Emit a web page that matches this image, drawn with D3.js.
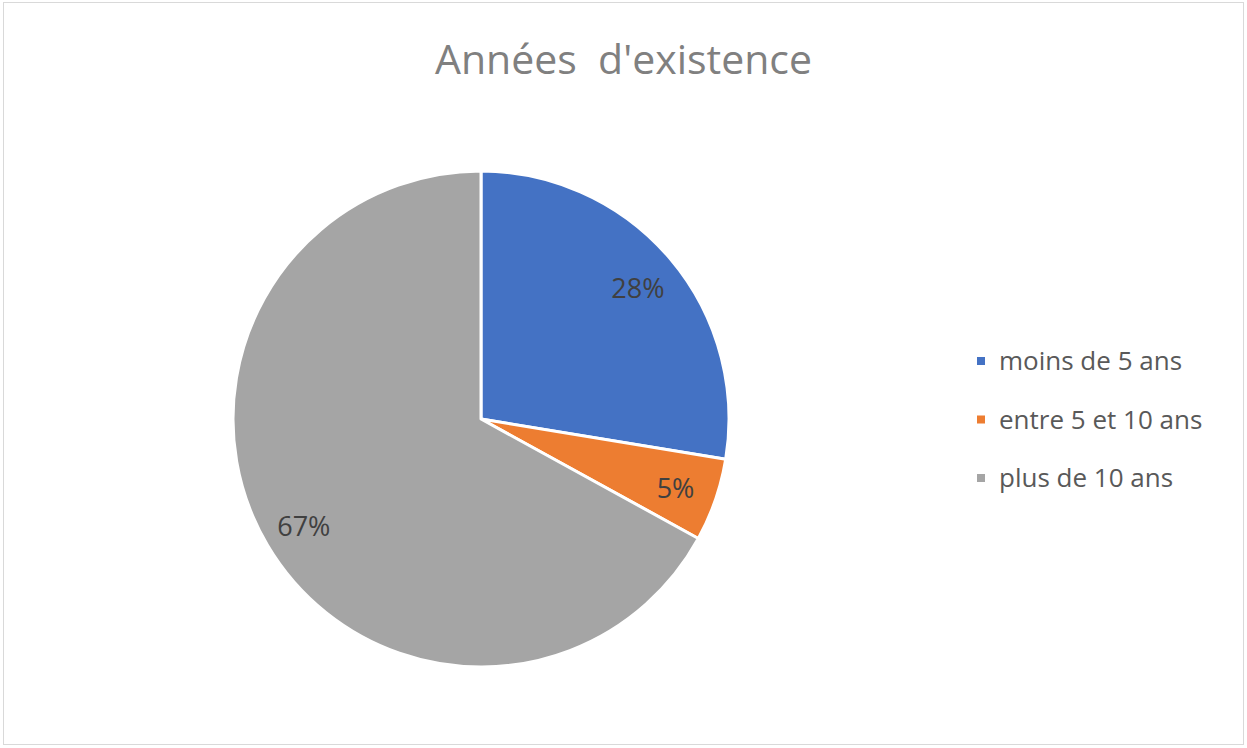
<!DOCTYPE html>
<html>
<head>
<meta charset="utf-8">
<script src="https://cdn.jsdelivr.net/npm/d3@7"></script>
<style>
  body { margin: 0; background: #fff; }
  svg { display: block; font-family: "Open Sans", "Noto Sans", sans-serif; }
</style>
</head>
<body>
<div id="chart"></div>
<script>
const title = "Années  d'existence";
const categories = ["moins de 5 ans", "entre 5 et 10 ans", "plus de 10 ans"];
const shares = [27.6, 5.4, 67.0];
const colors = ["#4472C4", "#ED7D31", "#A5A5A5"];

const W = 1247, H = 748;
const cx = 481, cy = 419, radius = 248;

const svg = d3.select("#chart").append("svg")
  .attr("width", W)
  .attr("height", H);

// chart frame
svg.append("rect")
  .attr("x", 3.5).attr("y", 2.5)
  .attr("width", 1240).attr("height", 742)
  .attr("fill", "#fff")
  .attr("stroke", "#d9d9d9")
  .attr("stroke-width", 1);

svg.append("text")
  .attr("x", 623.5).attr("y", 74)
  .attr("text-anchor", "middle")
  .attr("fill", "#808080")
  .style("font-size", "41px")
  .style("white-space", "pre")
  .text(title);

const data = categories.map((c, i) => ({ name: c, value: shares[i], color: colors[i] }));

const pie = d3.pie().sort(null).value((d) => d.value);
const arcs = pie(data);

const arc = d3.arc().innerRadius(0).outerRadius(radius);
const labelArc = d3.arc().innerRadius(radius * 0.66).outerRadius(radius);

const g = svg.append("g").attr("transform", `translate(${cx},${cy})`);

g.selectAll("path")
  .data(arcs)
  .enter()
  .append("path")
  .attr("d", arc)
  .attr("fill", (d) => d.data.color)
  .attr("stroke", "#fff")
  .attr("stroke-width", 3)
  .attr("stroke-linejoin", "round");

g.selectAll(".label")
  .data(arcs)
  .enter()
  .append("text")
  .attr("class", "label")
  .attr("transform", (d) => `translate(${labelArc.centroid(d)})`)
  .attr("text-anchor", "middle")
  .attr("dy", "0.45em")
  .attr("fill", "#404040")
  .style("font-size", "27px")
  .text((d) => Math.round(d.data.value) + "%");

// legend
const legend = svg.append("g").attr("transform", "translate(976,361)");
const rows = legend.selectAll("g")
  .data(data)
  .enter()
  .append("g")
  .attr("transform", (d, i) => `translate(0,${i * 58.5})`);

rows.append("rect")
  .attr("x", 1).attr("y", -4)
  .attr("width", 8).attr("height", 8)
  .attr("fill", (d) => d.color);

rows.append("text")
  .attr("x", 23)
  .attr("dy", "0.36em")
  .attr("fill", "#595959")
  .style("font-size", "26px")
  .text((d) => d.name);
</script>
</body>
</html>
